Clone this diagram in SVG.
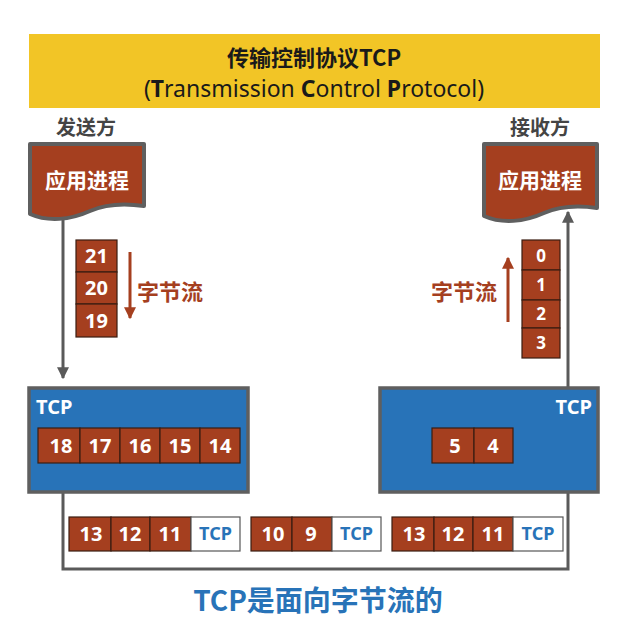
<svg xmlns="http://www.w3.org/2000/svg" width="627" height="624" viewBox="0 0 627 624">
<defs>
<style>
.cjk{font-family:"Noto Sans CJK SC","Noto Sans",sans-serif;font-weight:bold}
.num{font-family:"Noto Sans","Open Sans",sans-serif;font-weight:bold;fill:#fff;font-size:20px;text-anchor:middle}
.cell{fill:#a53f1f;stroke:#3a1d12;stroke-width:1.2}
.tcpcell{fill:#fff;stroke:#555;stroke-width:1.2}
.tcplbl{font-family:"Noto Sans","Open Sans",sans-serif;font-weight:bold;fill:#2873b8;font-size:18px;text-anchor:middle}
.line{stroke:#5a5a5a;stroke-width:3;fill:none}
.app{fill:#a53f1f;stroke:#5f5f5f;stroke-width:4;stroke-linejoin:round}
.tcpbox{fill:#2873b8;stroke:#5f5f5f;stroke-width:3.5}
.flow{fill:#a53f1f;font-size:22px;stroke:#fff;stroke-width:3;paint-order:stroke}
</style>
<marker id="ah" viewBox="0 0 10 10" refX="9" refY="5" markerWidth="4" markerHeight="4" orient="auto-start-reverse" markerUnits="strokeWidth">
<path d="M0,0 L10,5 L0,10 Z" fill="#5a5a5a"/>
</marker>
<marker id="rh" viewBox="0 0 10 10" refX="9" refY="5" markerWidth="4" markerHeight="4" orient="auto" markerUnits="strokeWidth">
<path d="M0,0 L10,5 L0,10 Z" fill="#a53f1f"/>
</marker>
</defs>
<rect width="627" height="624" fill="#fff"/>

<g id="title">
<rect x="29" y="34" width="571" height="74" fill="#f2c526"/>
<text x="314" y="66" text-anchor="middle" class="cjk" font-size="22" fill="#1a1a1a">传输控制协议TCP</text>
<text x="314" y="97" text-anchor="middle" font-family="'Noto Sans','Open Sans',sans-serif" font-size="23" fill="#1a1a1a">(<tspan font-weight="bold">T</tspan>ransmission <tspan font-weight="bold">C</tspan>ontrol <tspan font-weight="bold">P</tspan>rotocol)</text>
</g>

<g id="connectors">
<path class="line" d="M63,220 V378" marker-end="url(#ah)"/>
<path class="line" d="M63,492 V569 H568 V492"/>
<path class="line" d="M568,388 V212" marker-end="url(#ah)"/>
<path d="M130,252 V318" stroke="#a53f1f" stroke-width="3" fill="none" marker-end="url(#rh)"/>
<path d="M508,322 V258" stroke="#a53f1f" stroke-width="3" fill="none" marker-end="url(#rh)"/>
</g>

<g id="sender">
<text x="86" y="135" text-anchor="middle" class="cjk" font-size="20" fill="#444">发送方</text>
<path class="app" d="M30,144 H144 V206 C124,203 106,204 90,211 C70,220 48,222 30,214 Z"/>
<text x="87" y="188" text-anchor="middle" class="cjk" font-size="21" fill="#fff">应用进程</text>
</g>

<g id="receiver">
<text x="540" y="135" text-anchor="middle" class="cjk" font-size="20" fill="#444">接收方</text>
<path class="app" d="M484,144 H597 V208 C577,205 560,206 544,213 C524,222 502,224 484,216 Z"/>
<text x="540" y="188" text-anchor="middle" class="cjk" font-size="21" fill="#fff">应用进程</text>
</g>

<g id="sender-stream">
<rect class="cell" x="76" y="240" width="41" height="32"/>
<rect class="cell" x="76" y="272" width="41" height="32"/>
<rect class="cell" x="76" y="304" width="41" height="33"/>
<text class="num" x="96.5" y="263">21</text>
<text class="num" x="96.5" y="295">20</text>
<text class="num" x="96.5" y="328">19</text>
<text class="cjk flow" x="137" y="300">字节流</text>
</g>

<g id="receiver-stream">
<rect class="cell" x="522" y="240" width="38" height="30"/>
<rect class="cell" x="522" y="270" width="38" height="30"/>
<rect class="cell" x="522" y="300" width="38" height="28"/>
<rect class="cell" x="522" y="328" width="38" height="30"/>
<text class="num" x="541" y="262" style="font-size:17px">0</text>
<text class="num" x="541" y="291" style="font-size:17px">1</text>
<text class="num" x="541" y="320" style="font-size:17px">2</text>
<text class="num" x="541" y="349" style="font-size:17px">3</text>
<text class="cjk flow" x="431" y="300">字节流</text>
</g>

<g id="sender-tcp">
<rect class="tcpbox" x="29" y="388" width="219" height="104"/>
<text x="36" y="414" font-family="'Noto Sans','Open Sans',sans-serif" font-weight="bold" font-size="20" fill="#fff">TCP</text>
<rect class="cell" x="38" y="428" width="42" height="35"/>
<rect class="cell" x="80" y="428" width="40" height="35"/>
<rect class="cell" x="120" y="428" width="40" height="35"/>
<rect class="cell" x="160" y="428" width="40" height="35"/>
<rect class="cell" x="200" y="428" width="40" height="35"/>
<text class="num" x="61" y="453">18</text>
<text class="num" x="100" y="453">17</text>
<text class="num" x="140" y="453">16</text>
<text class="num" x="180" y="453">15</text>
<text class="num" x="220" y="453">14</text>
</g>

<g id="receiver-tcp">
<rect class="tcpbox" x="380" y="388" width="218" height="104"/>
<text x="592" y="414" text-anchor="end" font-family="'Noto Sans','Open Sans',sans-serif" font-weight="bold" font-size="20" fill="#fff">TCP</text>
<rect class="cell" x="432" y="428" width="42" height="35"/>
<rect class="cell" x="474" y="428" width="39" height="35"/>
<text class="num" x="455" y="453">5</text>
<text class="num" x="493" y="453">4</text>
</g>

<g id="segment1">
<rect class="cell" x="69" y="517" width="42" height="34"/>
<rect class="cell" x="111" y="517" width="39" height="34"/>
<rect class="cell" x="150" y="517" width="41" height="34"/>
<rect class="tcpcell" x="191" y="517" width="49" height="34"/>
<text class="num" x="91" y="541">13</text>
<text class="num" x="130" y="541">12</text>
<text class="num" x="170" y="541">11</text>
<text class="tcplbl" x="215.5" y="540">TCP</text>
</g>

<g id="segment2">
<rect class="cell" x="251" y="517" width="41" height="34"/>
<rect class="cell" x="292" y="517" width="40" height="34"/>
<rect class="tcpcell" x="332" y="517" width="49" height="34"/>
<text class="num" x="273" y="541">10</text>
<text class="num" x="311" y="541">9</text>
<text class="tcplbl" x="356.5" y="540">TCP</text>
</g>

<g id="segment3">
<rect class="cell" x="392" y="517" width="42" height="34"/>
<rect class="cell" x="434" y="517" width="39" height="34"/>
<rect class="cell" x="473" y="517" width="40" height="34"/>
<rect class="tcpcell" x="513" y="517" width="50" height="34"/>
<text class="num" x="414" y="541">13</text>
<text class="num" x="453" y="541">12</text>
<text class="num" x="493" y="541">11</text>
<text class="tcplbl" x="538" y="540">TCP</text>
</g>

<g id="caption">
<text x="318" y="611" text-anchor="middle" class="cjk" font-size="28" fill="#2873b8">TCP是面向字节流的</text>
</g>
</svg>
